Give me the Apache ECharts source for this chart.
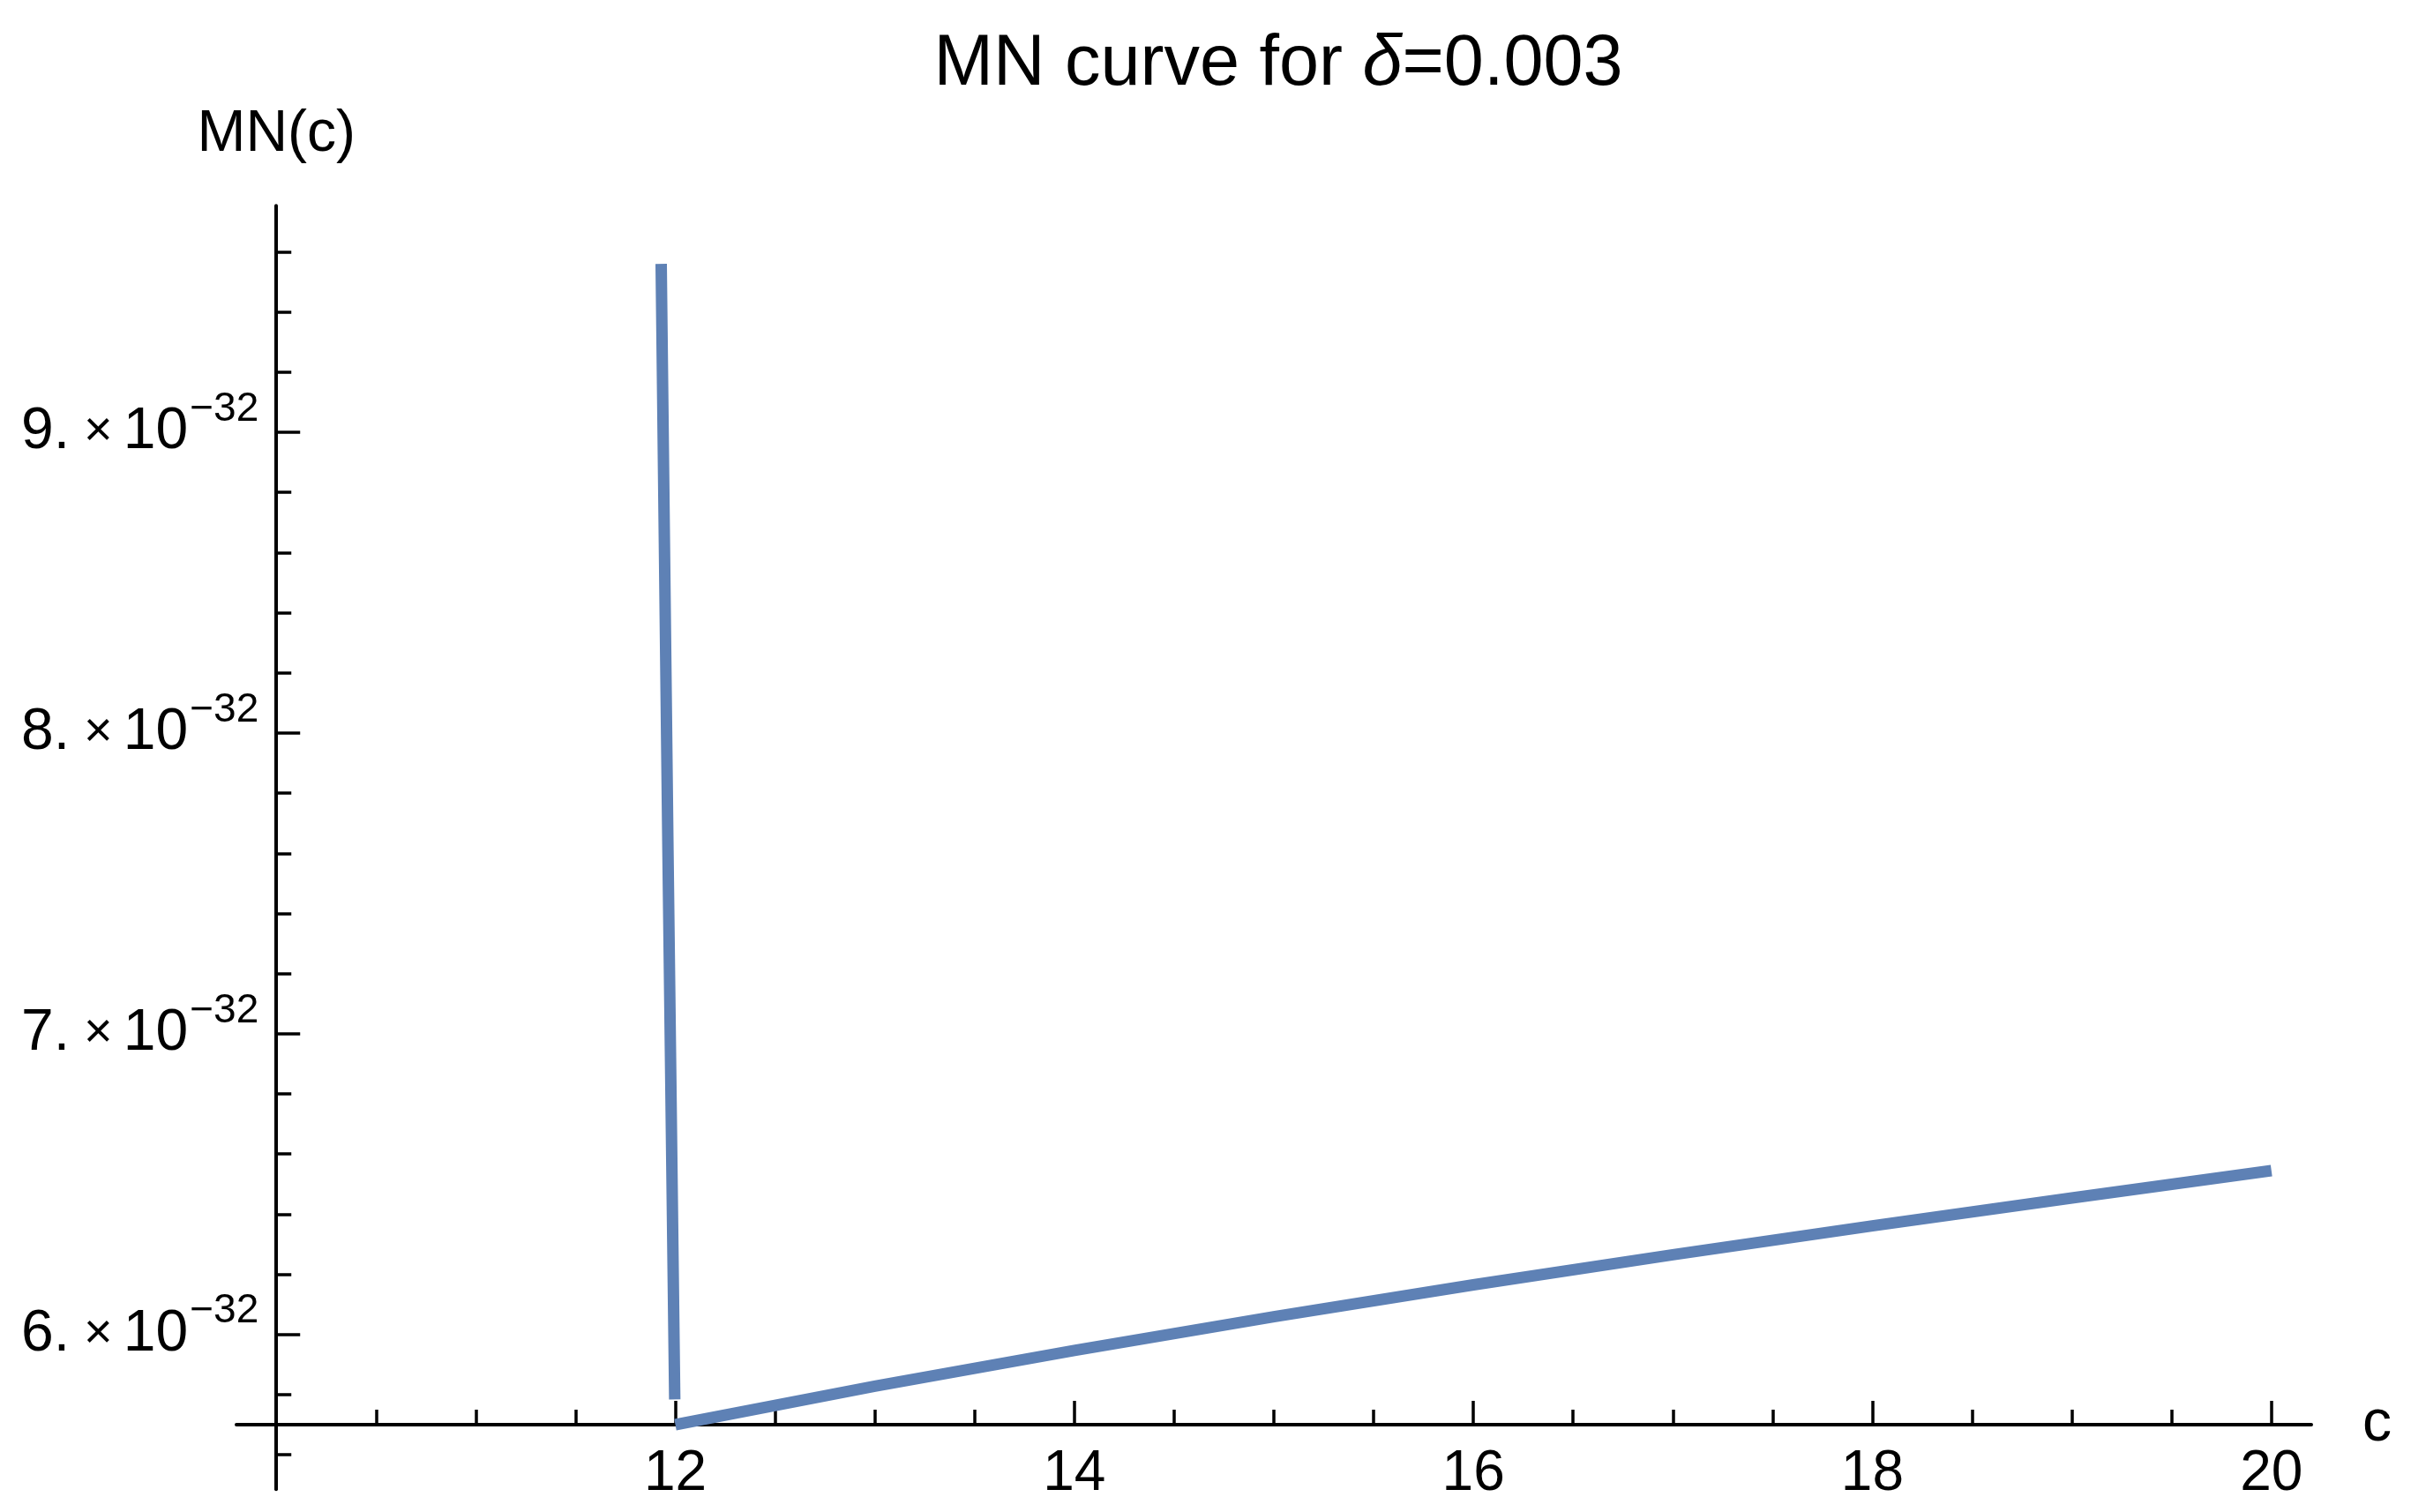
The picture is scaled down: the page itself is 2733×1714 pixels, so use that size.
<!DOCTYPE html>
<html>
<head>
<meta charset="utf-8">
<script src="https://cdn.jsdelivr.net/npm/echarts@6/dist/echarts.min.js"></script>
<style>
html,body{margin:0;padding:0;background:#ffffff;}
#chart{width:2733px;height:1714px;}
</style>
</head>
<body>
<div id="chart"></div>
<script>
// ---- data ----
const titleText = 'MN curve for {i|δ}=0.003';
const xName = 'c';
const yName = 'MN(c)';

// left (steep) branch just before c = 12
const leftC  = [11.929, 11.963, 11.997];
const leftMN = [9.56e-32, 7.61e-32, 5.784e-32];

// right branch, c from 12 to 20
const rightC  = [12, 13, 14, 15, 16, 17, 18, 19, 20];
const rightMN = [5.700e-32, 5.828e-32, 5.947e-32, 6.059e-32, 6.165e-32, 6.265e-32, 6.361e-32, 6.454e-32, 6.545e-32];

// axes
const Y_SCALE = 1e-32;            // labels are written as m × 10^-32
const Y_EXP_TEXT = '−32';
const xMajorTicks = [12, 14, 16, 18, 20];
const xMinorTicks = [10.5, 11, 11.5, 12.5, 13, 13.5, 14.5, 15, 15.5, 16.5, 17, 17.5, 18.5, 19, 19.5];
const yMajorTicks = [6, 7, 8, 9];  // in units of 10^-32
const yMinorTicks = [5.6, 5.8, 6.2, 6.4, 6.6, 6.8, 7.2, 7.4, 7.6, 7.8, 8.2, 8.4, 8.6, 8.8, 9.2, 9.4, 9.6];
const X_MIN = 9.8, X_MAX = 20.2;
const Y_MIN = 5.485, Y_MAX = 9.753;
const ORIGIN_X = 10, ORIGIN_Y = 5.7;

// ---- layout ----
const W = 2733, H = 1714;
const G = {left: 268, right: 113, top: 233.3, bottom: 25.7};
const gw = W - G.left - G.right, gh = H - G.top - G.bottom;
const yAxisOffset = -(ORIGIN_X - X_MIN) / (X_MAX - X_MIN) * gw;
const xAxisOffset = -(ORIGIN_Y - Y_MIN) / (Y_MAX - Y_MIN) * gh;

const FONT = 'Liberation Sans, Arial, sans-serif';
const LINE_COLOR = '#5E81B5';
const AXIS_COLOR = '#000000';

const chart = echarts.init(document.getElementById('chart'), null, {renderer: 'canvas'});

const lineSeries = (name, xs, ys) => ({
  name: name,
  type: 'line',
  xAxisIndex: 0,
  yAxisIndex: 0,
  data: xs.map((c, i) => [c, ys[i] / Y_SCALE]),
  showSymbol: false,
  symbol: 'none',
  smooth: false,
  clip: false,
  lineStyle: {color: LINE_COLOR, width: 13, cap: 'butt', join: 'round'},
  emphasis: {disabled: true},
  animation: false
});

const option = {
  backgroundColor: '#ffffff',
  animation: false,
  title: {
    text: titleText,
    left: (G.left + gw / 2),
    textAlign: 'center',
    top: 28,
    textStyle: {
      fontFamily: FONT, fontSize: 81, fontWeight: 'normal', color: '#000',
      rich: {i: {fontFamily: FONT, fontSize: 81, fontStyle: 'italic', color: '#000'}}
    }
  },
  grid: {left: G.left, right: G.right, top: G.top, bottom: G.bottom, containLabel: false, outerBoundsMode: 'none'},
  xAxis: [
    {
      type: 'value', min: X_MIN, max: X_MAX, position: 'bottom', offset: xAxisOffset,
      splitLine: {show: false},
      axisLine: {show: true, onZero: false, lineStyle: {color: AXIS_COLOR, width: 4}},
      axisTick: {show: true, inside: true, length: 27, customValues: xMajorTicks,
                 lineStyle: {color: AXIS_COLOR, width: 3.5}},
      axisLabel: {show: true, customValues: xMajorTicks, margin: 24,
                  fontFamily: FONT, fontSize: 64, color: '#000', formatter: v => String(v)},
      name: xName, nameLocation: 'end', nameGap: 58,
      nameTextStyle: {fontFamily: FONT, fontSize: 66, color: '#000', verticalAlign: 'middle'}
    },
    {
      type: 'value', min: X_MIN, max: X_MAX, position: 'bottom', offset: xAxisOffset,
      splitLine: {show: false},
      axisLine: {show: false, onZero: false},
      axisTick: {show: true, inside: true, length: 17, customValues: xMinorTicks,
                 lineStyle: {color: AXIS_COLOR, width: 3.5}},
      axisLabel: {show: false}
    }
  ],
  yAxis: [
    {
      type: 'value', min: Y_MIN, max: Y_MAX, position: 'left', offset: yAxisOffset,
      splitLine: {show: false},
      axisLine: {show: true, onZero: false, lineStyle: {color: AXIS_COLOR, width: 4}},
      axisTick: {show: true, inside: true, length: 27, customValues: yMajorTicks,
                 lineStyle: {color: AXIS_COLOR, width: 3.5}},
      axisLabel: {
        show: true, customValues: yMajorTicks, margin: 20,
        formatter: v => '{m|' + Math.round(v) + '.}{x|×}{m|10}{s|' + Y_EXP_TEXT + '}',
        rich: {
          m: {fontFamily: FONT, fontSize: 66, lineHeight: 98, color: '#000'},
          x: {fontFamily: FONT, fontSize: 56, lineHeight: 98, color: '#000', padding: [0, 12, 0, 16]},
          s: {fontFamily: FONT, fontSize: 46, lineHeight: 44, color: '#000', verticalAlign: 'top', padding: [0, 0, 0, 2]}
        }
      },
      name: yName, nameLocation: 'end', nameGap: 48,
      nameTextStyle: {fontFamily: FONT, fontSize: 66, color: '#000', align: 'center'}
    },
    {
      type: 'value', min: Y_MIN, max: Y_MAX, position: 'left', offset: yAxisOffset,
      splitLine: {show: false},
      axisLine: {show: false, onZero: false},
      axisTick: {show: true, inside: true, length: 17, customValues: yMinorTicks,
                 lineStyle: {color: AXIS_COLOR, width: 3.5}},
      axisLabel: {show: false}
    }
  ],
  series: [
    lineSeries('MN left', leftC, leftMN),
    lineSeries('MN right', rightC, rightMN)
  ]
};

chart.setOption(option);
</script>
</body>
</html>
